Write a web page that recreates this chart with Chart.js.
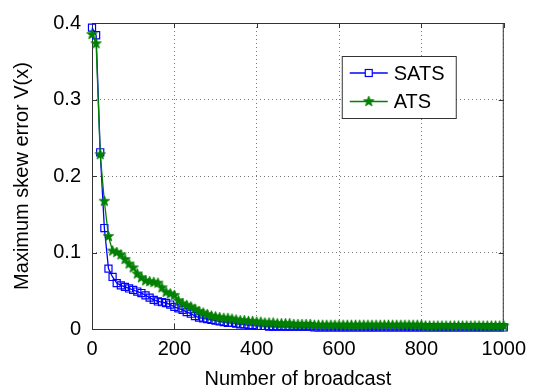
<!DOCTYPE html>
<html><head><meta charset="utf-8">
<script src="https://cdn.jsdelivr.net/npm/chart.js@4/dist/chart.umd.min.js"></script>
<style>html,body{margin:0;background:#fff}#wrap{width:534px;height:391px;position:relative}</style>
</head><body><div id="wrap"><canvas id="skew"></canvas></div>
<script>
// number of broadcasts (x) and maximum skew error for each scheme
const broadcasts=[0,10,20,30,40,50,60,70,80,90,100,110,120,130,140,150,160,170,180,190,200,
  210,220,230,240,250,260,270,280,290,300,310,320,330,340,350,360,370,380,390,400,
  410,420,430,440,450,460,470,480,490,500,510,520,530,540,550,560,570,580,590,600,
  610,620,630,640,650,660,670,680,690,700,710,720,730,740,750,760,770,780,790,800,
  810,820,830,840,850,860,870,880,890,900,910,920,930,940,950,960,970,980,990,1000];
const sats=[0.394,0.384,0.231,0.132,0.079,0.068,0.060,0.057,0.055,0.053,0.051,
  0.049,0.047,0.044,0.041,0.038,0.036,0.035,0.034,0.032,0.029,
  0.027,0.025,0.022,0.020,0.017,0.015,0.014,0.013,0.012,0.011,
  0.010,0.009,0.008,0.008,0.007,0.006,0.006,0.005,0.005,0.004,
  0.004,0.004,0.003,0.003,0.003,0.003,0.003,0.003,0.003,0.003,
  0.003,0.003,0.003,0.002,0.002,0.002,0.002,0.002,0.002,0.002,
  0.002,0.002,0.002,0.002,0.002,0.002,0.002,0.002,0.002,0.002,
  0.002,0.002,0.002,0.002,0.002,0.002,0.002,0.002,0.002,0.002,
  0.002,0.002,0.002,0.002,0.002,0.002,0.002,0.002,0.002,0.002,
  0.002,0.002,0.002,0.002,0.002,0.002,0.002,0.002,0.002,0.002];
const ats=[0.385,0.373,0.228,0.167,0.121,0.102,0.100,0.097,0.091,0.085,0.080,
  0.072,0.067,0.063,0.062,0.061,0.060,0.054,0.048,0.046,0.044,
  0.037,0.033,0.031,0.029,0.026,0.023,0.021,0.019,0.017,0.016,
  0.015,0.014,0.014,0.013,0.012,0.011,0.011,0.010,0.010,0.009,
  0.009,0.008,0.008,0.008,0.007,0.007,0.007,0.007,0.006,0.006,
  0.006,0.006,0.006,0.005,0.005,0.005,0.005,0.005,0.005,0.005,
  0.005,0.005,0.005,0.005,0.005,0.005,0.005,0.005,0.005,0.005,
  0.005,0.005,0.005,0.005,0.005,0.005,0.005,0.005,0.005,0.005,
  0.004,0.004,0.004,0.004,0.004,0.004,0.004,0.004,0.004,0.004,
  0.004,0.004,0.004,0.004,0.004,0.004,0.004,0.004,0.004,0.004];
const xTicks=[0,200,400,600,800,1000];
const yTicks=[0,0.1,0.2,0.3,0.4];

const FONT='"Liberation Sans", Arial, Helvetica, sans-serif';
const AX='#333';
const BLUE='#0000ff', GREEN='#008000';

// filled five-point star, like matlab's pentagram marker
function starMarker(color,r){
  const s=Math.ceil(r*2+2),c=document.createElement('canvas');
  c.width=c.height=s;
  const g=c.getContext('2d');
  g.translate(s/2,s/2);g.beginPath();
  for(let i=0;i<10;i++){
    const rr=i%2?r*0.42:r,a=-Math.PI/2+i*Math.PI/5;
    g.lineTo(rr*Math.cos(a),rr*Math.sin(a));
  }
  g.closePath();g.fillStyle=color;g.fill();
  g.strokeStyle=color;g.lineWidth=0.8;g.stroke();
  return c;
}
const STAR=starMarker(GREEN,5.5);

// axes box with inward tick marks on all four sides
const boxTicks={id:'boxTicks',beforeDatasetsDraw(chart){
  const {ctx,chartArea:a,scales:{x,y}}=chart;
  ctx.save();ctx.strokeStyle=AX;ctx.lineWidth=1;
  ctx.strokeRect(a.left+.5,a.top+.5,a.right-a.left-1,a.bottom-a.top);
  ctx.beginPath();
  xTicks.forEach(t=>{const p=Math.round(x.getPixelForValue(t))+.5;
    ctx.moveTo(p,a.bottom);ctx.lineTo(p,a.bottom-5);ctx.moveTo(p,a.top);ctx.lineTo(p,a.top+5);});
  yTicks.forEach(t=>{const p=Math.round(y.getPixelForValue(t))+.5;
    ctx.moveTo(a.left,p);ctx.lineTo(a.left+5,p);ctx.moveTo(a.right,p);ctx.lineTo(a.right-5,p);});
  ctx.stroke();ctx.restore();
}};

// boxed legend in the upper right, line + marker + name
const boxLegend={id:'boxLegend',afterDraw(chart){
  const {ctx,chartArea:a}=chart;
  const bx=a.right-162,by=a.top+33,bw=114,bh=62;
  ctx.save();
  ctx.fillStyle='#fff';ctx.fillRect(bx,by,bw,bh);
  ctx.strokeStyle=AX;ctx.lineWidth=1;ctx.strokeRect(bx+.5,by+.5,bw,bh);
  ctx.font='20px '+FONT;ctx.textBaseline='middle';ctx.fillStyle='#000';
  chart.data.datasets.forEach((ds,i)=>{
    const ly=by+17+i*28.5,lx=bx+8;
    ctx.strokeStyle=ds.borderColor;ctx.lineWidth=ds.borderWidth;
    ctx.beginPath();ctx.moveTo(lx,ly);ctx.lineTo(lx+38,ly);ctx.stroke();
    if(ds.pointStyle==='rect'){
      ctx.lineWidth=ds.pointBorderWidth;ctx.fillStyle='#fff';
      ctx.fillRect(lx+15.5,ly-3.5,7,7);ctx.strokeRect(lx+15.5,ly-3.5,7,7);
    }else{
      ctx.drawImage(ds.pointStyle,lx+19-ds.pointStyle.width/2,ly-ds.pointStyle.height/2);
    }
    ctx.fillStyle='#000';ctx.fillText(ds.label,lx+44,ly+1);
  });
  ctx.restore();
}};

new Chart(document.getElementById('skew'),{type:'line',
  data:{datasets:[
    {label:'SATS',data:sats.map((v,i)=>({x:broadcasts[i],y:v})),
      borderColor:BLUE,borderWidth:1.3,pointStyle:'rect',pointRadius:5,
      pointBorderColor:BLUE,pointBackgroundColor:'rgba(0,0,0,0)',pointBorderWidth:1.2,
      order:1,clip:false,tension:0},
    {label:'ATS',data:ats.map((v,i)=>({x:broadcasts[i],y:v})),
      borderColor:GREEN,borderWidth:1.3,pointStyle:STAR,pointRadius:5,
      order:0,clip:false,tension:0}]},
  options:{responsive:true,maintainAspectRatio:false,animation:false,devicePixelRatio:1,
    layout:{padding:{top:14,right:30,left:0,bottom:0}},
    plugins:{legend:{display:false},tooltip:{enabled:false}},
    scales:{
      x:{type:'linear',min:0,max:1000,
        afterBuildTicks:s=>{s.ticks=xTicks.map(v=>({value:v}));},
        afterFit:s=>{s.height=62;},
        ticks:{color:'#000',font:{family:FONT,size:20},padding:8,maxRotation:0,callback:v=>String(v)},
        grid:{color:'#777',lineWidth:1,drawTicks:false},
        border:{display:false,dash:[1,3]},
        title:{display:true,text:'Number of broadcast',color:'#000',font:{family:FONT,size:20},padding:{top:0,bottom:0}}},
      y:{min:0,max:0.4,
        afterBuildTicks:s=>{s.ticks=yTicks.map(v=>({value:v}));},
        afterFit:s=>{s.width=92;},
        ticks:{color:'#000',font:{family:FONT,size:20},padding:11,callback:v=>String(v)},
        grid:{color:'#777',lineWidth:1,drawTicks:false},
        border:{display:false,dash:[1,3]},
        title:{display:true,text:'Maximum skew error V(x)',color:'#000',font:{family:FONT,size:20},padding:{top:10,bottom:0}}}}},
  plugins:[boxTicks,boxLegend]
});
</script></body></html>
